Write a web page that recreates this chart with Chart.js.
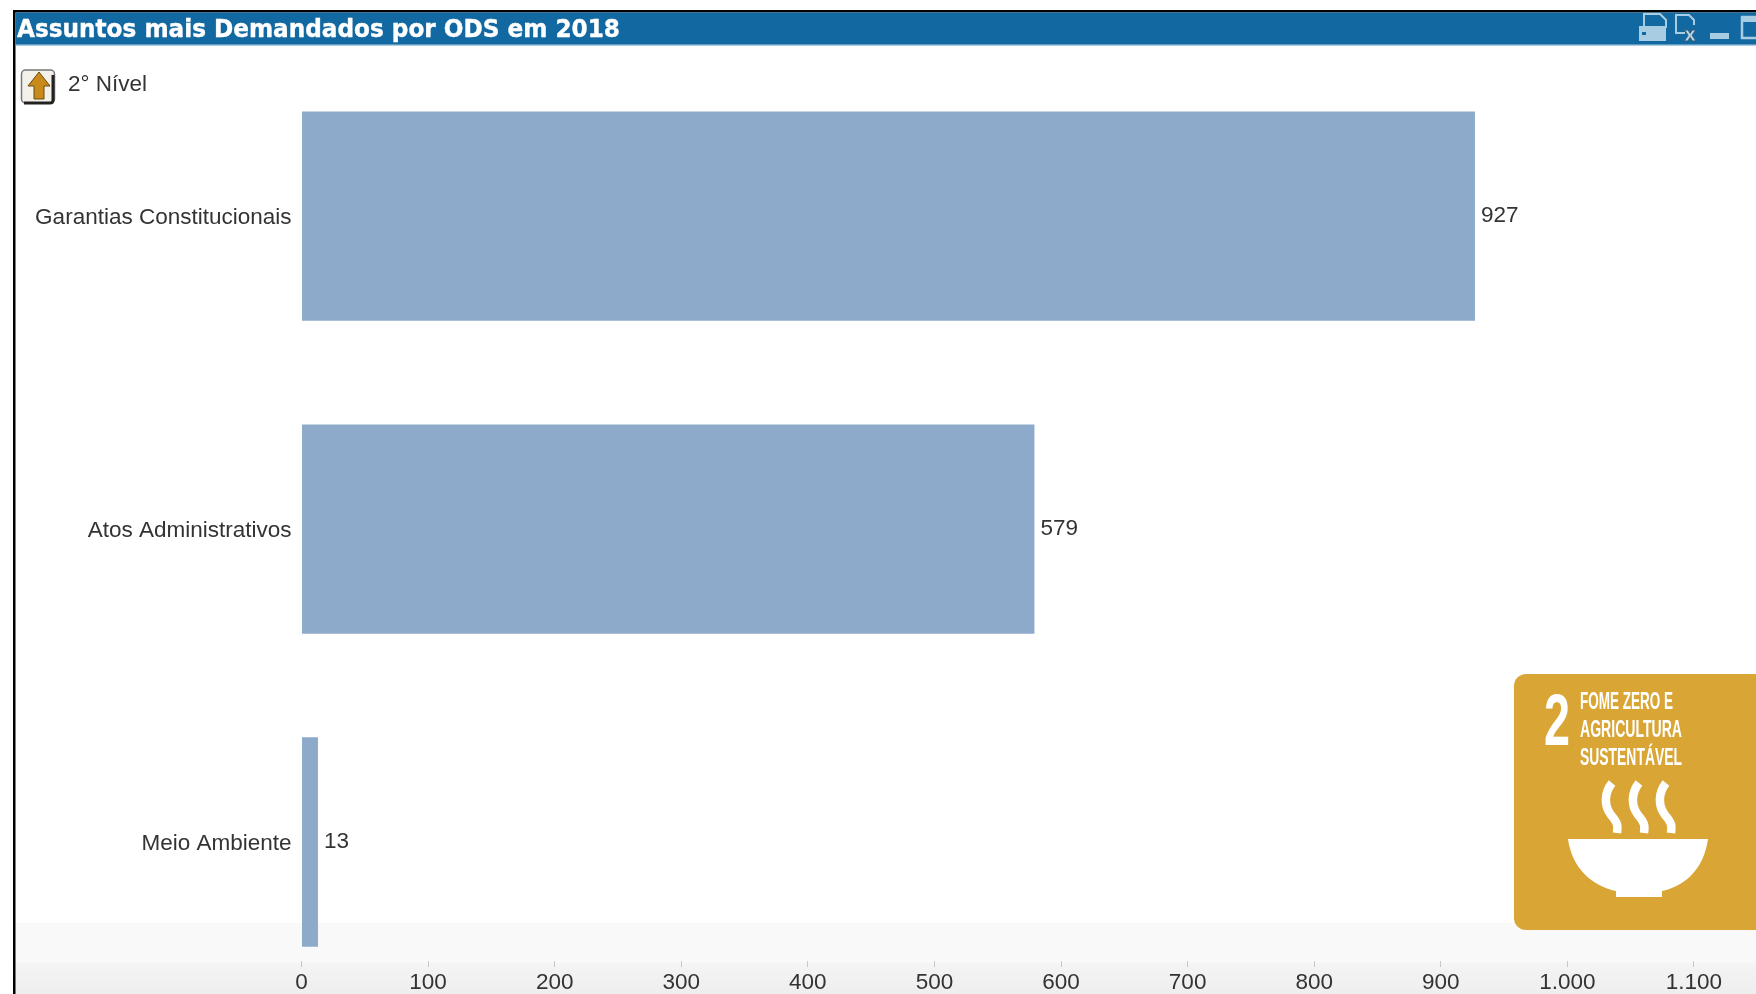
<!DOCTYPE html>
<html lang="pt-BR">
<head>
<meta charset="utf-8">
<title>Assuntos mais Demandados por ODS em 2018</title>
<script src="https://cdn.jsdelivr.net/npm/chart.js@4"></script>
<style>
    html, body { margin: 0; padding: 0; width: 1756px; height: 994px; overflow: hidden; background: #fff; }
    #footerBand { position: absolute; left: 15px; right: 0; top: 923px; height: 71px;
        background: linear-gradient(#f9f9f9 0, #f9f9f9 55%, #f4f4f4 58%, #eeeeee 100%); }
    #chartBox { position: absolute; left: 0; top: 0; width: 1756px; height: 994px; }
    #panel { position: absolute; left: 0; top: 0; }
</style>
</head>
<body>
<div id="footerBand"></div>
<div id="chartBox"><canvas id="assuntosChart" width="1756" height="994"></canvas></div>

<svg id="panel" width="1756" height="994" xmlns="http://www.w3.org/2000/svg">
    <!-- window frame and title bar -->
    <rect x="13" y="10" width="1743" height="2.5" fill="#000"/>
    <rect x="13" y="10" width="2.5" height="984" fill="#000"/>
    <rect x="15.5" y="12.5" width="1741" height="32" fill="#1268a0"/>
    <rect x="15.5" y="44" width="1741" height="1.5" fill="#5f9cc3"/>
    <text x="17" y="37" font-family="'DejaVu Sans', Verdana, sans-serif" font-weight="700" font-size="24" fill="#fff" stroke="#fff" stroke-width="0.4" textLength="603" lengthAdjust="spacingAndGlyphs">Assuntos mais Demandados por ODS em 2018</text>

    <!-- title bar buttons -->
    <path d="M1644,14 H1660 L1666,20 V27 H1644 Z" fill="none" stroke="#a8cde3" stroke-width="2"/>
    <rect x="1639" y="26" width="27" height="15" fill="#a8cde3"/>
    <rect x="1642" y="32" width="4" height="3" fill="#1268a0"/>
    <path d="M1685,33 H1676 V15 H1689 L1694,20 V25" fill="none" stroke="#a8cde3" stroke-width="2"/>
    <text x="1684" y="41" font-family="'DejaVu Sans', sans-serif" font-weight="700" font-size="19" fill="#b9d3e3" stroke="#345f7c" stroke-width="0.8">x</text>
    <rect x="1710" y="33" width="19" height="6" fill="#a8cde3"/>
    <path d="M1757,17 H1742 V38 H1757" fill="none" stroke="#a8cde3" stroke-width="2.5"/>
    <rect x="1742" y="17" width="15" height="5" fill="#a8cde3"/>

    <!-- drill-up button and level label -->
    <rect x="21.5" y="70" width="33" height="33" rx="4" fill="#f4f1ea" stroke="#777" stroke-width="1.5"/>
    <path d="M53,75 V100 Q53,103 50,103 H24" fill="none" stroke="#222" stroke-width="3"/>
    <path d="M39,72 L50,86 H44 V99 H34 V86 H28 Z" fill="#c98a1c" stroke="#6b4a0e" stroke-width="1"/>
    <text x="68" y="91" font-family="'Liberation Sans', Arial, sans-serif" font-size="22" fill="#333" textLength="79" lengthAdjust="spacingAndGlyphs">2° Nível</text>

    <!-- ODS 2 tile -->
    <path d="M1756,674 H1526 A12,12 0 0 0 1514,686 V918 A12,12 0 0 0 1526,930 H1756 Z" fill="#d9a636"/>
    <text x="1544" y="745" font-family="'Liberation Sans', Arial, sans-serif" font-weight="700" font-size="72" fill="#fff" textLength="26" lengthAdjust="spacingAndGlyphs">2</text>
    <g font-family="'Liberation Sans', Arial, sans-serif" font-weight="700" font-size="24" fill="#fff">
        <text x="1580" y="709" textLength="93" lengthAdjust="spacingAndGlyphs">FOME ZERO E</text>
        <text x="1580" y="737" textLength="102" lengthAdjust="spacingAndGlyphs">AGRICULTURA</text>
        <text x="1580" y="765" textLength="102" lengthAdjust="spacingAndGlyphs">SUSTENTÁVEL</text>
    </g>
    <g fill="none" stroke="#fff" stroke-width="8.5" stroke-linecap="butt">
        <path d="M1612,783 C1604,793 1604,806 1611,815 C1618,823 1618,826 1617,833"/>
        <path d="M1639,783 C1631,793 1631,806 1638,815 C1645,823 1645,826 1644,833"/>
        <path d="M1666,783 C1658,793 1658,806 1665,815 C1672,823 1672,826 1671,833"/>
    </g>
    <path d="M1568,839 H1708 C1704,868 1686,886 1662,891 V897 H1616 V891 C1592,886 1572,868 1568,839 Z" fill="#fff"/>
</svg>

<script>
// Assuntos e totais de demandas
const categories = ['Garantias Constitucionais', 'Atos Administrativos', 'Meio Ambiente'];
const demandValues = [927, 579, 13];
const xTickValues = [0, 100, 200, 300, 400, 500, 600, 700, 800, 900, 1000, 1100];

const labelFont = { family: "'Liberation Sans', Arial, sans-serif", size: 22.5 };
const textColor = '#333333';

// Writes each total just past the end of its bar
const barValueLabels = {
    id: 'barValueLabels',
    afterDatasetsDraw(chart) {
        const ctx = chart.ctx;
        const meta = chart.getDatasetMeta(0);
        ctx.save();
        ctx.font = `${labelFont.size}px ${labelFont.family}`;
        ctx.fillStyle = textColor;
        ctx.textAlign = 'left';
        ctx.textBaseline = 'middle';
        meta.data.forEach((bar, i) => {
            ctx.fillText(demandValues[i], bar.x + 6, bar.y);
        });
        ctx.restore();
    }
};

// Thousands separator as used in pt-BR
function formatThousands(value) {
    return String(value).replace(/\B(?=(\d{3})+$)/g, '.');
}

new Chart(document.getElementById('assuntosChart'), {
    type: 'bar',
    data: {
        datasets: [{
            data: demandValues.map((value, i) => ({ x: value, y: i })),
            backgroundColor: '#8daaca',
            borderWidth: 0,
            barPercentage: 1,
            categoryPercentage: 0.669
        }]
    },
    options: {
        indexAxis: 'y',
        responsive: false,
        animation: false,
        layout: { padding: { top: 59.6, left: 0, right: 0, bottom: 0 } },
        plugins: { legend: { display: false }, tooltip: { enabled: false }, title: { display: false } },
        scales: {
            x: {
                type: 'linear',
                min: 0,
                max: 1149,
                afterBuildTicks: axis => { axis.ticks = xTickValues.map(value => ({ value })); },
                afterFit: axis => { axis.height = 33; },
                border: { display: false },
                grid: { display: true, drawOnChartArea: false, drawTicks: true, tickLength: 6, tickColor: '#c8c8c8' },
                ticks: {
                    font: labelFont,
                    color: textColor,
                    padding: 2,
                    maxRotation: 0,
                    autoSkip: false,
                    callback: value => formatThousands(value)
                }
            },
            y: {
                type: 'linear',
                reverse: true,
                offset: false,
                min: -0.5,
                max: 2.38,
                afterBuildTicks: axis => { axis.ticks = categories.map((_, i) => ({ value: i })); },
                afterFit: axis => { axis.width = 301.5; },
                border: { display: false },
                grid: { display: false, offset: false },
                ticks: {
                    font: labelFont,
                    color: textColor,
                    padding: 2,
                    labelOffset: 2,
                    autoSkip: false,
                    callback: value => categories[value]
                }
            }
        }
    },
    plugins: [barValueLabels]
});
</script>
</body>
</html>
